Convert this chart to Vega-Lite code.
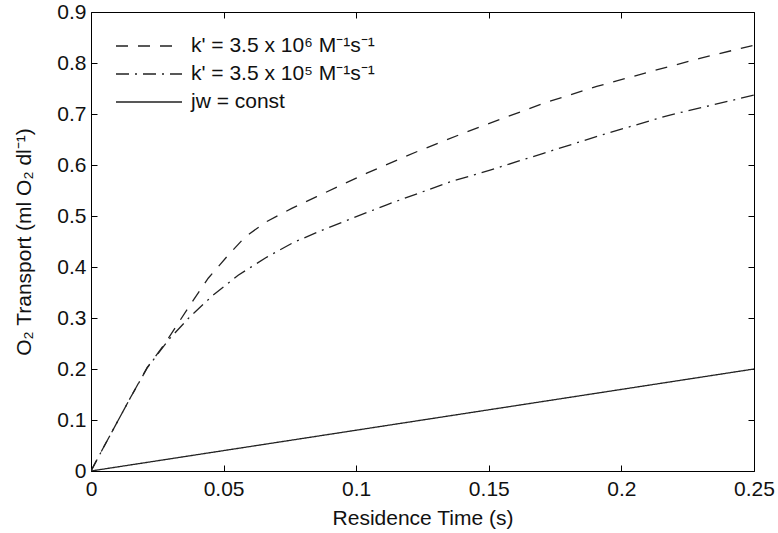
{
  "$schema": "https://vega.github.io/schema/vega-lite/v6.json",
  "width": 663,
  "height": 459,
  "autosize": {"type": "none"},
  "padding": {"left": 91, "top": 12, "right": 24, "bottom": 62},
  "background": "white",
  "config": {
    "view": {"stroke": "#000", "strokeWidth": 1},
    "font": "Liberation Sans",
    "axis": {
      "labelFont": "Liberation Sans",
      "titleFont": "Liberation Sans",
      "labelFontSize": 21,
      "titleFontSize": 21,
      "titleFontWeight": "normal",
      "labelColor": "#111",
      "titleColor": "#111",
      "tickColor": "#000",
      "tickWidth": 1,
      "domain": false,
      "grid": false,
      "tickSize": 6,
      "offset": -6,
      "ticks": true,
      "labelFlush": false,
      "labelLimit": 0
    },
    "legend": {
      "labelFont": "Liberation Sans",
      "labelFontSize": 21,
      "labelColor": "#111",
      "labelLimit": 0
    }
  },
  "data": {
    "values": [
      {"t": 0, "v": 0, "s": "k6"},
      {"t": 0.005, "v": 0.049, "s": "k6"},
      {"t": 0.01, "v": 0.097, "s": "k6"},
      {"t": 0.015, "v": 0.145, "s": "k6"},
      {"t": 0.0212, "v": 0.203, "s": "k6"},
      {"t": 0.0279, "v": 0.25, "s": "k6"},
      {"t": 0.0329, "v": 0.29, "s": "k6"},
      {"t": 0.0386, "v": 0.335, "s": "k6"},
      {"t": 0.0442, "v": 0.378, "s": "k6"},
      {"t": 0.0512, "v": 0.42, "s": "k6"},
      {"t": 0.0581, "v": 0.459, "s": "k6"},
      {"t": 0.0662, "v": 0.489, "s": "k6"},
      {"t": 0.0757, "v": 0.515, "s": "k6"},
      {"t": 0.0851, "v": 0.538, "s": "k6"},
      {"t": 0.104, "v": 0.584, "s": "k6"},
      {"t": 0.1228, "v": 0.626, "s": "k6"},
      {"t": 0.1417, "v": 0.665, "s": "k6"},
      {"t": 0.1706, "v": 0.721, "s": "k6"},
      {"t": 0.1907, "v": 0.754, "s": "k6"},
      {"t": 0.2108, "v": 0.783, "s": "k6"},
      {"t": 0.2296, "v": 0.809, "s": "k6"},
      {"t": 0.25, "v": 0.835, "s": "k6"},
      {"t": 0, "v": 0, "s": "k5"},
      {"t": 0.005, "v": 0.049, "s": "k5"},
      {"t": 0.01, "v": 0.097, "s": "k5"},
      {"t": 0.015, "v": 0.145, "s": "k5"},
      {"t": 0.0212, "v": 0.202, "s": "k5"},
      {"t": 0.0292, "v": 0.257, "s": "k5"},
      {"t": 0.0373, "v": 0.3025, "s": "k5"},
      {"t": 0.0461, "v": 0.345, "s": "k5"},
      {"t": 0.0555, "v": 0.384, "s": "k5"},
      {"t": 0.0662, "v": 0.419, "s": "k5"},
      {"t": 0.0763, "v": 0.448, "s": "k5"},
      {"t": 0.0889, "v": 0.476, "s": "k5"},
      {"t": 0.1115, "v": 0.522, "s": "k5"},
      {"t": 0.1354, "v": 0.567, "s": "k5"},
      {"t": 0.1505, "v": 0.59, "s": "k5"},
      {"t": 0.1706, "v": 0.623, "s": "k5"},
      {"t": 0.1945, "v": 0.662, "s": "k5"},
      {"t": 0.2183, "v": 0.698, "s": "k5"},
      {"t": 0.25, "v": 0.737, "s": "k5"},
      {"t": 0, "v": 0, "s": "jw"},
      {"t": 0.25, "v": 0.2, "s": "jw"}
    ]
  },
  "layer": [
    {
      "mark": {"type": "line", "stroke": "#222", "strokeWidth": 1.3, "clip": true},
      "encoding": {
        "x": {
          "field": "t", "type": "quantitative",
          "scale": {"domain": [0, 0.25], "nice": false},
          "axis": {"values": [0, 0.05, 0.1, 0.15, 0.2, 0.25], "format": ".2~f", "labelPadding": 7, "title": "Residence Time (s)", "titlePadding": 8}
        },
        "y": {
          "field": "v", "type": "quantitative",
          "scale": {"domain": [0, 0.9], "nice": false},
          "axis": {"values": [0, 0.1, 0.2, 0.3, 0.4, 0.5, 0.6, 0.7, 0.8, 0.9], "format": ".1~f", "labelPadding": 5, "title": "O₂ Transport (ml O₂ dl⁻¹)", "titlePadding": 22}
        },
        "strokeDash": {
          "field": "s", "type": "nominal",
          "scale": {"domain": ["k6", "k5", "jw"], "range": [[12, 10], [13, 6, 2, 6], [1, 0]]},
          "legend": {
            "title": null,
            "orient": "none",
            "legendX": 46,
            "legendY": 22,
            "padding": 0,
            "symbolType": "M-3,0L3,0",
            "symbolSize": 484,
            "symbolStrokeColor": "#222",
            "symbolStrokeWidth": 1.3,
            "symbolFillColor": "transparent",
            "labelOffset": 30,
            "rowPadding": 6,
            "labelExpr": "datum.value == 'k6' ? \"k' = 3.5 x 10⁶ M⁻¹s⁻¹\" : datum.value == 'k5' ? \"k' = 3.5 x 10⁵ M⁻¹s⁻¹\" : 'jw = const'"
          }
        },
        "detail": {"field": "s"}
      }
    },
    {
      "mark": {"type": "point", "opacity": 0},
      "encoding": {
        "x": {"field": "t", "type": "quantitative", "axis": {"orient": "top", "values": [0, 0.05, 0.1, 0.15, 0.2, 0.25], "labels": false, "title": null}},
        "y": {"field": "v", "type": "quantitative", "axis": {"orient": "right", "values": [0, 0.1, 0.2, 0.3, 0.4, 0.5, 0.6, 0.7, 0.8, 0.9], "labels": false, "title": null}}
      }
    }
  ],
  "resolve": {"axis": {"x": "independent", "y": "independent"}}
}
